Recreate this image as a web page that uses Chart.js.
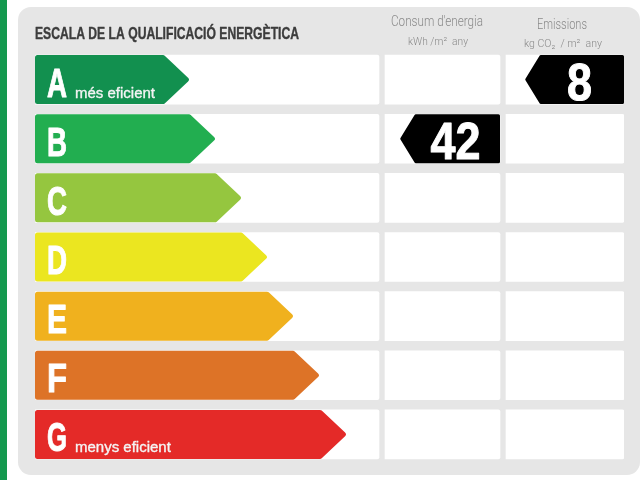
<!DOCTYPE html>
<html>
<head>
<meta charset="utf-8">
<style>
  html, body { margin: 0; padding: 0; background: #fff; }
  canvas { display: block; }
</style>
<script src="https://cdn.jsdelivr.net/npm/chart.js@4"></script>
</head>
<body>
<canvas id="grafica" width="640" height="480"></canvas>
<script>
const categorias = ['A', 'B', 'C', 'D', 'E', 'F', 'G'];
const longitudEscala = [154, 180, 206, 232, 258, 284, 311];
const consum = [null, 42, null, null, null, null, null];
const emissions = [8, null, null, null, null, null, null];
const coloresEscala = ['#12904f', '#22ae50', '#95c63f', '#ebe620', '#f0b11e', '#dd7327', '#e42a28'];
const notas = { A: 'més eficient', G: 'menys eficient' };

const narrow = '"Liberation Sans Narrow", "Liberation Sans", sans-serif';

// columnas de fondo, en unidades del eje x
const col1 = [0, 344], col2 = [350, 465], col3 = [471, 589];

function redondeado(ctx, pts, r) {
    ctx.beginPath();
    ctx.moveTo((pts[0][0] + pts[pts.length - 1][0]) / 2, (pts[0][1] + pts[pts.length - 1][1]) / 2);
    for (let i = 0; i < pts.length; i++) {
        const sig = pts[(i + 1) % pts.length];
        ctx.arcTo(pts[i][0], pts[i][1], sig[0], sig[1], r);
    }
    ctx.closePath();
}

function dibujaFlecha(ctx) {
    const t = this.height / 2, punta = 26, tip = this.x + 1;
    ctx.fillStyle = this.options.backgroundColor;
    redondeado(ctx, [[this.base, this.y - t], [tip - punta, this.y - t], [tip, this.y],
        [tip - punta, this.y + t], [this.base, this.y + t]], 2.5);
    ctx.fill();
}

function dibujaEtiqueta(ctx) {
    const t = this.height / 2, punta = 15;
    ctx.fillStyle = this.options.backgroundColor;
    redondeado(ctx, [[this.base + punta, this.y - t], [this.x, this.y - t], [this.x, this.y + t],
        [this.base + punta, this.y + t], [this.base, this.y]], 1.5);
    ctx.fill();
}

// texto con trazo fino para engordar la letra
function textoGordo(ctx, txt, x, y, ancho, grosor) {
    ctx.lineWidth = grosor;
    ctx.strokeStyle = ctx.fillStyle;
    ctx.lineJoin = 'round';
    ctx.strokeText(txt, x, y, ancho);
    ctx.fillText(txt, x, y, ancho);
}

const pluginEscala = {
    id: 'pluginEscala',
    beforeDraw(chart) {
        const ctx = chart.ctx;
        ctx.save();
        ctx.fillStyle = '#14994f';
        ctx.fillRect(0, 0, 7, 480);
        ctx.fillStyle = '#e6e6e6';
        ctx.beginPath();
        ctx.roundRect(18, 7, 622, 468, 13);
        ctx.fill();
        ctx.restore();
    },
    beforeDatasetDraw(chart, args) {
        const forma = chart.data.datasets[args.index].forma;
        if (forma) {
            args.meta.data.forEach(function (el) {
                el.draw = forma === 'flecha' ? dibujaFlecha : dibujaEtiqueta;
            });
        }
    },
    afterDatasetsDraw(chart) {
        const ctx = chart.ctx;
        ctx.save();
        ctx.textAlign = 'left';
        ctx.textBaseline = 'alphabetic';

        ctx.fillStyle = '#3c3c3c';
        ctx.font = 'bold 16.5px ' + narrow;
        textoGordo(ctx, 'ESCALA DE LA QUALIFICACIÓ ENERGÈTICA', 35, 39, 264, 0.4);

        ctx.textAlign = 'center';
        ctx.fillStyle = '#8a8a8a';
        ctx.font = '300 14px Roboto, sans-serif';
        ctx.fillText("Consum d'energia", 437, 26, 92);
        ctx.fillText('Emissions', 562, 29, 50);
        ctx.font = '300 11px Roboto, sans-serif';
        ctx.fillText('kWh /m²  any', 438, 45, 60);
        ctx.fillText('kg CO₂  / m²  any', 563, 47, 78);

        // letras y notas de la escala
        ctx.textAlign = 'left';
        chart.getDatasetMeta(0).data.forEach(function (el, i) {
            const letra = categorias[i];
            ctx.fillStyle = '#fff';
            ctx.font = 'bold 41px ' + narrow;
            textoGordo(ctx, letra, 47, el.y + 17, 20, 1);
            if (notas[letra]) {
                ctx.font = '15px "Liberation Sans", sans-serif';
                ctx.fillStyle = '#f4f4f4';
                textoGordo(ctx, notas[letra], 75, el.y + 18, letra === 'A' ? 82 : 98, 0.35);
            }
        });

        // valores sobre las etiquetas negras
        ctx.textAlign = 'center';
        ctx.fillStyle = '#fff';
        ctx.font = 'bold 52px ' + narrow;
        [[1, consum], [2, emissions]].forEach(function (par) {
            chart.getDatasetMeta(par[0]).data.forEach(function (el, i) {
                if (par[1][i] !== null) {
                    const texto = String(par[1][i]);
                    textoGordo(ctx, texto, el.x - 44.5, el.y + 20, texto.length * 25, 1);
                }
            });
        });
        ctx.restore();
    }
};

new Chart(document.getElementById('grafica'), {
    type: 'bar',
    data: {
        labels: categorias,
        datasets: [
            { data: longitudEscala, backgroundColor: coloresEscala, forma: 'flecha' },
            { data: consum.map(v => v === null ? null : [365, col2[1]]), backgroundColor: '#000', forma: 'etiqueta' },
            { data: emissions.map(v => v === null ? null : [490, col3[1]]), backgroundColor: '#000', forma: 'etiqueta' },
            { data: categorias.map(() => col1), backgroundColor: '#fff', borderRadius: 2 },
            { data: categorias.map(() => col2), backgroundColor: '#fff', borderRadius: 2 },
            { data: categorias.map(() => col3), backgroundColor: '#fff', borderRadius: 2 }
        ]
    },
    options: {
        indexAxis: 'y',
        responsive: false,
        animation: false,
        layout: { padding: { left: 35, right: 16, top: 50, bottom: 16 } },
        datasets: { bar: { barThickness: 49, grouped: false } },
        scales: {
            x: { display: false, min: 0, max: 589 },
            y: { display: false }
        },
        plugins: { legend: { display: false }, tooltip: { enabled: false } }
    },
    plugins: [pluginEscala]
});
</script>
</body>
</html>
